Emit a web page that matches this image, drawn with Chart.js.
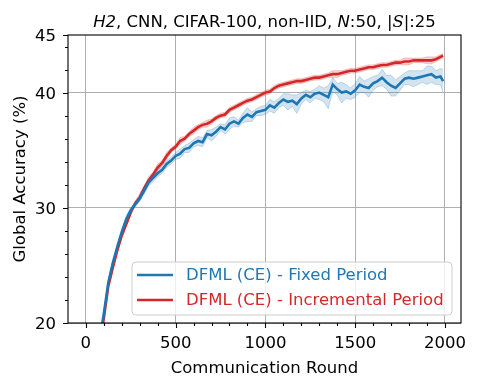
<!DOCTYPE html>
<html>
<head>
<meta charset="utf-8">
<script src="https://cdn.jsdelivr.net/npm/chart.js@4.4.0/dist/chart.umd.min.js"></script>
<style>
  html, body { margin: 0; padding: 0; background: #fff; }
  #wrap { width: 478px; height: 387px; position: relative; }
</style>
</head>
<body>
<div id="wrap"><canvas id="c" width="478" height="387"></canvas></div>
<script>
// communication rounds (x)
const rounds = [75,100,125,150,175,200,225,250,275,300,325,350,375,400,425,450,475,
  500,525,550,575,600,625,650,675,700,725,750,775,800,825,850,875,900,925,950,975,
  1000,1025,1050,1075,1100,1125,1150,1175,1200,1225,1250,1275,1300,1325,1350,1375,1400,1425,1450,1475,
  1500,1525,1550,1575,1600,1625,1650,1675,1700,1725,1750,1775,1800,1825,1850,1875,1900,1925,1950,1975,1990];

// DFML (CE) - Fixed Period
const fixedMean = [18.3,20.8,23.5,25.2,26.6,27.9,29.0,29.8,30.3,30.8,31.5,32.2,32.6,33.0,33.3,33.8,34.1,
  34.5,34.7,35.1,35.2,35.6,35.8,35.7,36.4,36.3,36.6,37.0,36.8,37.3,37.5,37.3,37.8,38.1,37.9,38.3,38.4,
  38.5,38.9,38.7,39.1,39.4,39.2,39.3,39.0,39.5,39.8,39.6,39.9,40.0,39.8,39.6,40.7,40.3,40.0,40.1,39.9,
  40.2,40.7,40.5,40.4,40.8,41.0,41.3,40.9,40.6,40.4,40.8,41.2,41.3,41.2,41.3,41.4,41.5,41.6,41.3,41.4,41.0];
const fixedStd = [0.2,0.2,0.3,0.2,0.2,0.2,0.3,0.2,0.2,0.2,0.3,0.3,0.3,0.3,0.3,0.3,0.3,
  0.3,0.4,0.3,0.4,0.3,0.4,0.4,0.3,0.5,0.4,0.3,0.4,0.5,0.4,0.3,0.4,0.6,0.4,0.3,0.4,
  0.4,0.5,0.5,0.4,0.5,0.7,0.5,0.8,0.5,0.4,0.5,0.4,0.6,0.6,1.0,0.6,0.5,0.9,0.6,0.5,
  0.6,0.7,0.5,0.8,0.6,0.5,0.7,0.6,0.9,0.7,0.6,0.5,0.6,0.7,0.6,0.5,0.8,0.7,0.6,0.7,1.0];

// DFML (CE) - Incremental Period
const incrMean = [18.0,20.4,23.2,24.8,26.3,27.6,28.6,29.6,30.4,30.9,31.7,32.4,32.9,33.5,33.9,34.5,35.0,
  35.3,35.8,36.0,36.4,36.7,37.0,37.2,37.3,37.5,37.8,38.0,38.1,38.5,38.7,38.9,39.1,39.3,39.4,39.6,39.8,
  40.0,40.1,40.4,40.6,40.7,40.8,40.9,41.0,41.0,41.1,41.2,41.3,41.3,41.4,41.5,41.6,41.6,41.7,41.8,41.9,
  41.9,42.0,42.1,42.2,42.2,42.3,42.4,42.4,42.5,42.6,42.6,42.7,42.7,42.8,42.8,42.8,42.8,42.8,42.9,43.1,43.2];
const incrStd = [0.2,0.2,0.2,0.2,0.2,0.2,0.2,0.2,0.2,0.3,0.2,0.3,0.2,0.3,0.2,0.3,0.2,
  0.2,0.3,0.2,0.2,0.3,0.2,0.2,0.3,0.2,0.2,0.2,0.2,0.2,0.2,0.2,0.2,0.2,0.2,0.2,0.2,
  0.2,0.2,0.2,0.2,0.2,0.2,0.2,0.2,0.2,0.2,0.2,0.2,0.2,0.2,0.2,0.3,0.3,0.2,0.2,0.2,
  0.2,0.2,0.2,0.2,0.2,0.2,0.2,0.2,0.2,0.2,0.2,0.3,0.3,0.2,0.2,0.2,0.3,0.3,0.2,0.2,0.2];

const xMajor = [0,500,1000,1500,2000];
const yMajor = [20,30,40,45];
const yGrid = [20,30,40];
const seriesNames = ['DFML (CE) - Fixed Period','DFML (CE) - Incremental Period'];

const BLUE = '#1f77b4', RED = '#d62728';
const FONT = "'DejaVu Sans'";
const FS = 16.5;

const pts = (ys) => ys.map((y, i) => ({x: rounds[i], y: y}));
const band = (m, s, sign) => m.map((v, i) => ({x: rounds[i], y: v + sign * s[i]}));

//spines, tick marks, titles, legend
const decor = {
  id: 'decor',
  afterDraw(chart) {
    const c = chart.ctx, a = chart.chartArea;
    const xs = chart.scales.x, ys = chart.scales.y;
    c.save();
    c.strokeStyle = '#000';
    c.lineWidth = 1.1;
    c.strokeRect(a.left, a.top, a.right - a.left, a.bottom - a.top);
    c.beginPath();
    xs.ticks.forEach(t => {
      const px = Math.round(xs.getPixelForValue(t.value)) + 0.5;
      const len = xMajor.includes(t.value) ? 5 : 3;
      c.moveTo(px, a.bottom); c.lineTo(px, a.bottom + len);
    });
    ys.ticks.forEach(t => {
      const py = Math.round(ys.getPixelForValue(t.value)) + 0.5;
      const len = yMajor.includes(t.value) ? 5 : 3;
      c.moveTo(a.left, py); c.lineTo(a.left - len, py);
    });
    c.stroke();

    // title with italic parts
    const f = FS + 'px ' + FONT;
    const parts = [
      ['H2', 'italic ' + f], [', CNN, CIFAR-100, non-IID, ', f],
      ['N', 'italic ' + f], [':50, |', f],
      ['S', 'italic ' + FS + 'px "DejaVu Serif"'], ['|:25', f]
    ];
    let w = 0;
    parts.forEach(p => { c.font = p[1]; w += c.measureText(p[0]).width; });
    let x = (a.left + a.right) / 2 - w / 2;
    c.fillStyle = '#000';
    c.textBaseline = 'alphabetic';
    c.textAlign = 'left';
    parts.forEach(p => { c.font = p[1]; c.fillText(p[0], x, 27); x += c.measureText(p[0]).width; });

    // axis titles
    c.font = f;
    c.textAlign = 'center';
    c.fillText('Communication Round', (a.left + a.right) / 2, 373);
    c.save();
    c.translate(25, (a.top + a.bottom) / 2);
    c.rotate(-Math.PI / 2);
    c.fillText('Global Accuracy (%)', 0, 0);
    c.restore();

    // legend box
    const lx = 132, ly = 262, lw = 320, lh = 53, r = 4;
    c.beginPath();
    c.moveTo(lx + r, ly);
    c.arcTo(lx + lw, ly, lx + lw, ly + lh, r);
    c.arcTo(lx + lw, ly + lh, lx, ly + lh, r);
    c.arcTo(lx, ly + lh, lx, ly, r);
    c.arcTo(lx, ly, lx + lw, ly, r);
    c.closePath();
    c.fillStyle = 'rgba(255,255,255,0.8)';
    c.fill();
    c.strokeStyle = '#cccccc';
    c.lineWidth = 1;
    c.stroke();
    const cols = [BLUE, RED];
    seriesNames.forEach((name, i) => {
      const yy = 275 + i * 25;
      c.strokeStyle = cols[i];
      c.lineWidth = 2.6;
      c.beginPath(); c.moveTo(137, yy); c.lineTo(173, yy); c.stroke();
      c.fillStyle = cols[i];
      c.textAlign = 'left';
      c.textBaseline = 'middle';
      c.font = f;
      c.fillText(name, 186, yy + 1);
    });
    c.restore();
  }
};

const chart = new Chart(document.getElementById('c').getContext('2d'), {
  type: 'line',
  data: {
    datasets: [
      {data: band(fixedMean, fixedStd, 1), borderColor: 'rgba(31,119,180,0.3)', borderWidth: 0.8, pointRadius: 0, fill: false},
      {data: band(fixedMean, fixedStd, -1), borderColor: 'rgba(31,119,180,0.3)', borderWidth: 0.8, pointRadius: 0,
        fill: '-1', backgroundColor: 'rgba(31,119,180,0.2)'},
      {label: seriesNames[0], data: pts(fixedMean), borderColor: BLUE, borderWidth: 2.6, pointRadius: 0, fill: false},
      {data: band(incrMean, incrStd, 1), borderColor: 'rgba(214,39,40,0.3)', borderWidth: 0.8, pointRadius: 0, fill: false},
      {data: band(incrMean, incrStd, -1), borderColor: 'rgba(214,39,40,0.3)', borderWidth: 0.8, pointRadius: 0,
        fill: '-1', backgroundColor: 'rgba(214,39,40,0.2)'},
      {label: seriesNames[1], data: pts(incrMean), borderColor: RED, borderWidth: 2.6, pointRadius: 0, fill: false}
    ]
  },
  options: {
    responsive: false,
    animation: false,
    layout: {padding: {left: 0, top: 35, right: 17, bottom: 0}},
    plugins: {legend: {display: false}, title: {display: false}, tooltip: {enabled: false}},
    scales: {
      x: {
        type: 'linear', min: -99.5, max: 2089.5,
        afterBuildTicks: (s) => {
          const t = [];
          for (let v = 0; v <= 2000; v += 100) t.push({value: v});
          s.ticks = t;
        },
        afterFit: (s) => { s.height = 64; },
        ticks: {
          autoSkip: false, maxRotation: 0, padding: 11, color: '#000',
          font: {family: 'DejaVu Sans', size: FS},
          callback: (v) => xMajor.includes(v) ? String(v) : ''
        },
        grid: {drawTicks: false, color: (ctx) => xMajor.includes(ctx.tick.value) ? '#b0b0b0' : 'rgba(0,0,0,0)', lineWidth: 1},
        border: {display: false}
      },
      y: {
        type: 'linear', min: 20, max: 45,
        afterBuildTicks: (s) => {
          const t = [];
          for (let v = 20; v <= 44; v += 2) t.push({value: v});
          t.push({value: 45});
          s.ticks = t;
        },
        afterFit: (s) => { s.width = 68; },
        ticks: {
          autoSkip: false, padding: 12, labelOffset: 2, color: '#000',
          font: {family: 'DejaVu Sans', size: FS},
          callback: (v) => yMajor.includes(v) ? String(v) : ''
        },
        grid: {drawTicks: false, color: (ctx) => yGrid.includes(ctx.tick.value) ? '#b0b0b0' : 'rgba(0,0,0,0)', lineWidth: 1},
        border: {display: false}
      }
    }
  },
  plugins: [decor]
});
</script>
</body>
</html>
